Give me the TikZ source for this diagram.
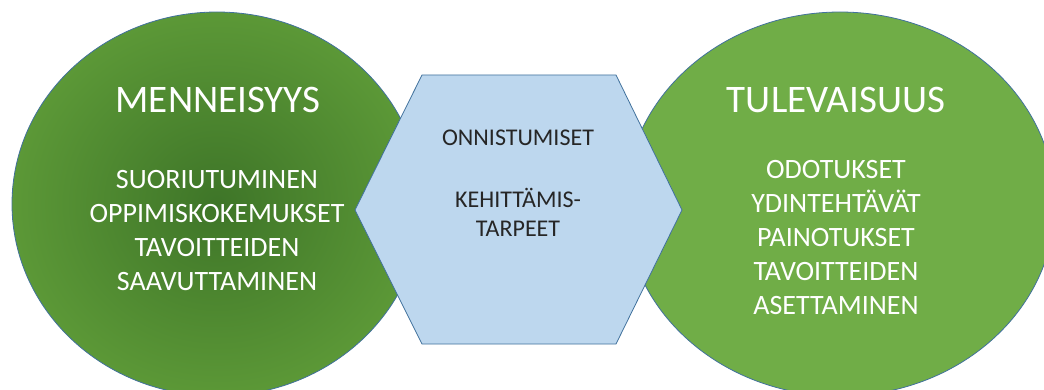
\documentclass[tikz,border=0pt]{standalone}
\usepackage{fontspec}
\setmainfont{Carlito}
\usetikzlibrary{shapes.geometric}

\definecolor{leafgreen}{HTML}{70AD47}
\definecolor{pastedge}{HTML}{64A23B}
\definecolor{pastcore}{HTML}{3E7528}
\definecolor{hexfill}{HTML}{BDD7EE}
\definecolor{rimblue}{HTML}{41719C}
% darker glow in the middle of the left bubble
\pgfdeclareradialshading{pastglow}{\pgfpoint{0bp}{0bp}}{color(0bp)=(pastcore); color(32bp)=(pastedge); color(50bp)=(pastedge)}

\begin{document}
\begin{tikzpicture}[
  x=1pt, y=1pt,
  bubble/.style={ellipse, draw=rimblue, line width=0.8pt, inner sep=0pt},
  headline/.style={text=white, font=\fontsize{39}{47}\selectfont},
  itemlist/.style={text=white, align=center, font=\fontsize{28}{34}\selectfont},
  midlist/.style={text=black!85, align=center, font=\fontsize{24}{29}\selectfont}
]
\useasboundingbox (0,0) rectangle (1044,389);
\clip (0,0) rectangle (1044,389);

\node[bubble, shading=pastglow, minimum width=410pt, minimum height=384pt] (past) at (217,185) {};
\node[bubble, fill=leafgreen, minimum width=430pt, minimum height=384pt] (future) at (840,185) {};

% hexagon in between
\coordinate (hexmid) at (518,206);
\draw[rimblue, fill=hexfill, line width=0.8pt]
  (355,179) -- (422,314) -- (616,314) -- (682,179) -- (616,45) -- (422,45) -- cycle;

\node[headline] (pasthead) at (218,289) {MENNEISYYS};
\node[itemlist] (pastlist) at (217,158) {SUORIUTUMINEN\\OPPIMISKOKEMUKSET\\TAVOITTEIDEN\\SAAVUTTAMINEN};

\node[midlist] (midtext) at (hexmid) {ONNISTUMISET\\[33pt]KEHITTÄMIS-\\TARPEET};

\node[headline] (futurehead) at (836,289) {TULEVAISUUS};
\node[itemlist] (futurelist) at (836,151) {ODOTUKSET\\YDINTEHTÄVÄT\\PAINOTUKSET\\TAVOITTEIDEN\\ASETTAMINEN};
\end{tikzpicture}
\end{document}
